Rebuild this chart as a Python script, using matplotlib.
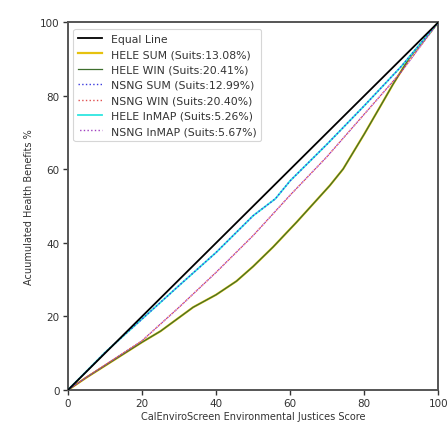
import matplotlib
matplotlib.use("Agg")
import matplotlib.pyplot as plt

# Data
x_equal = [0, 100]
y_equal = [0, 100]

x_low = [0, 5, 10, 20, 25, 33.8, 40, 45.5, 50, 55.4, 60, 61.7, 66.2, 70.7, 74.3, 80, 84.2, 87.8, 92.3, 100]
y_low = [0, 3.4, 6.6, 13.0, 16.0, 22.5, 25.9, 29.6, 33.6, 38.9, 43.8, 45.6, 50.6, 55.6, 60.1, 69.6, 76.9, 83.2, 90.5, 100]

x_mid = [0, 5, 10, 20, 30, 40, 50, 60, 69.8, 80, 90, 100]
y_mid = [0, 3.5, 6.8, 13.4, 22.5, 32.0, 42.0, 53.0, 63.3, 75.0, 86.5, 100]

x_up = [0, 10, 20, 30, 40, 50, 56, 60, 70, 80, 90, 100]
y_up = [0, 10.2, 19.3, 28.4, 37.4, 47.4, 52.0, 56.9, 66.9, 77.3, 88.0, 100]

labels = ["Equal Line",
          "HELE SUM (Suits:13.08%)",
          "HELE WIN (Suits:20.41%)",
          "NSNG SUM (Suits:12.99%)",
          "NSNG WIN (Suits:20.40%)",
          "HELE InMAP (Suits:5.26%)",
          "NSNG InMAP (Suits:5.67%)"]

fig = plt.figure(figsize=(4.47, 4.27), dpi=100)
ax = fig.add_axes([0.152, 0.0843, 0.8286, 0.8612])

ax.plot(x_equal, y_equal, color="black", lw=1.3, label=labels[0], zorder=5)
ax.plot(x_low, y_low, color="#e6c20f", lw=1.6, label=labels[1], zorder=2)
ax.plot(x_low, y_low, color="#3d6e2d", lw=0.9, label=labels[2], zorder=3)
ax.plot(x_up, y_up, color="#3a3adf", lw=1.0, ls=":", label=labels[3], zorder=4)
ax.plot(x_mid, y_mid, color="#e05050", lw=1.0, ls=":", label=labels[4], zorder=3)
ax.plot(x_up, y_up, color="#2ee6e0", lw=1.3, label=labels[5], zorder=3)
ax.plot(x_mid, y_mid, color="#a040c0", lw=1.0, ls=(1.5, (1, 1.65)), label=labels[6], zorder=4)

ax.set_xlim(0, 100)
ax.set_ylim(0, 100)
ax.set_xticks([0, 20, 40, 60, 80, 100])
ax.set_yticks([0, 20, 40, 60, 80, 100])
ax.tick_params(labelsize=7.5, colors="#333333", length=3.5, width=1.0, pad=2.5)
for s in ax.spines.values():
    s.set_color("#555555")
    s.set_linewidth(1.4)

ax.set_xlabel("CalEnviroScreen Environmental Justices Score", fontsize=7, color="#333333", labelpad=2)
ax.set_ylabel("Acuumulated Health Benefits %", fontsize=7, color="#333333", labelpad=4)

leg = ax.legend(loc="upper left", fontsize=7.8, frameon=True, handlelength=2.2,
                labelspacing=0.5, borderpad=0.45, handletextpad=0.8,
                bbox_to_anchor=(0.0, 0.997))
leg.get_frame().set_edgecolor("#cccccc")
leg.get_frame().set_linewidth(0.8)
for t in leg.get_texts():
    t.set_color("#333333")

fig.savefig("out.png", dpi=100)
